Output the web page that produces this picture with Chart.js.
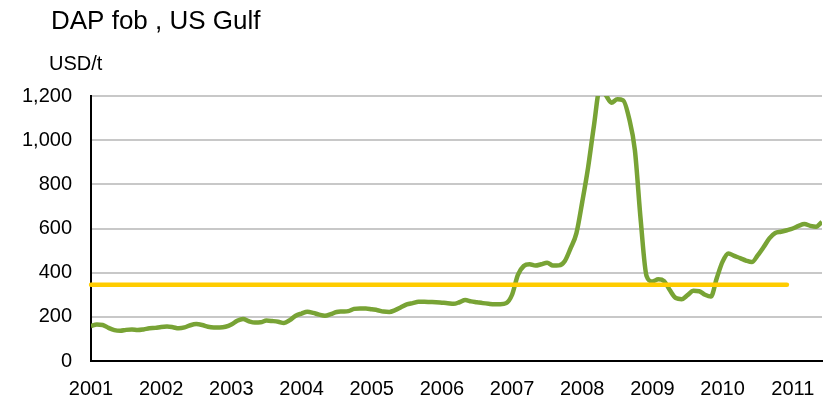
<!DOCTYPE html>
<html>
<head>
<meta charset="utf-8">
<title>DAP fob, US Gulf</title>
<script src="https://cdn.jsdelivr.net/npm/chart.js@4"></script>
<style>
    html, body { margin: 0; padding: 0; background: #ffffff; }
    #wrap { position: relative; width: 831px; height: 398px; }
</style>
</head>
<body>
<div id="wrap"><canvas id="dap-chart" width="831" height="398"></canvas></div>
<script>
// ===== DAP fob, US Gulf - monthly price =====

const years = ['2001', '2002', '2003', '2004', '2005', '2006', '2007', '2008', '2009', '2010', '2011'];
const monthsShown = 126; // Jan 2001 .. Jun 2011

// USD/t, one value per month
const price2001 = [158, 165, 163, 150, 140, 137, 141, 143, 140, 143, 148, 150];
const price2002 = [154, 156, 153, 148, 152, 162, 167, 163, 155, 152, 152, 155];
const price2003 = [165, 182, 190, 180, 174, 175, 183, 181, 178, 172, 185, 205];
const price2004 = [215, 223, 218, 210, 205, 212, 222, 224, 226, 236, 238, 238];
const price2005 = [234, 230, 224, 222, 230, 243, 256, 262, 268, 268, 267, 266];
const price2006 = [264, 262, 259, 266, 276, 270, 266, 262, 259, 257, 257, 262];
const price2007 = [300, 390, 430, 438, 432, 438, 445, 432, 433, 452, 510, 578];
const price2008 = [720, 876, 1065, 1230, 1205, 1170, 1185, 1180, 1100, 955, 637, 385];
const price2009 = [360, 370, 362, 320, 285, 280, 298, 318, 316, 300, 292, 375];
const price2010 = [450, 487, 476, 466, 455, 448, 478, 515, 555, 580, 585, 592];
const price2011 = [600, 612, 620, 612, 608, 630];

// long-run average level, Jan 2001 .. Dec 2010
const averageLevel = 345;
const averageFrom = '2001-01';
const averageTo = '2010-12';

const yTicks = [0, 200, 400, 600, 800, 1000, 1200];

const FONT = '"Liberation Sans", Arial, sans-serif';

function buildMonthLabels() {
    const labels = [];
    years.forEach(y => {
        for (let m = 1; m <= 12; m++) {
            labels.push(y + '-' + String(m).padStart(2, '0'));
        }
    });
    return labels.slice(0, monthsShown);
}

const monthLabels = buildMonthLabels();
const prices = [].concat(price2001, price2002, price2003, price2004, price2005,
    price2006, price2007, price2008, price2009, price2010, price2011);

// Title and unit label drawn above the plot
const headerPlugin = {
    id: 'header',
    afterDraw(chart) {
        const ctx = chart.ctx;
        ctx.save();
        ctx.fillStyle = '#000000';
        ctx.textBaseline = 'alphabetic';
        ctx.textAlign = 'left';
        ctx.font = '26px ' + FONT;
        ctx.fillText('DAP fob , US Gulf', 51, 29);
        ctx.font = '20px ' + FONT;
        ctx.fillText('USD/t', 49, 70);
        ctx.restore();
    }
};

function initPriceChart() {
    const ctx = document.getElementById('dap-chart').getContext('2d');

    new Chart(ctx, {
        type: 'line',
        data: {
            labels: monthLabels,
            datasets: [{
                label: 'DAP fob US Gulf',
                data: prices,
                borderColor: '#78a335',
                borderWidth: 4.5,
                pointRadius: 0,
                cubicInterpolationMode: 'monotone',
                fill: false,
                clip: 0,
                order: 1
            }, {
                label: 'Average',
                data: [{ x: averageFrom, y: averageLevel }, { x: averageTo, y: averageLevel }],
                borderColor: '#ffcc00',
                borderWidth: 4.5,
                borderCapStyle: 'round',
                pointRadius: 0,
                fill: false,
                order: 0
            }]
        },
        options: {
            responsive: false,
            animation: false,
            layout: {
                padding: { top: 96, right: 9, bottom: 0, left: 0 }
            },
            plugins: {
                legend: { display: false },
                tooltip: { enabled: false }
            },
            scales: {
                x: {
                    type: 'category',
                    offset: false,
                    grid: { display: false, drawTicks: false },
                    border: { display: true, color: '#000000', width: 2 },
                    ticks: {
                        autoSkip: false,
                        maxRotation: 0,
                        padding: 16,
                        color: '#000000',
                        font: { family: FONT, size: 20 },
                        callback: function (value, index) {
                            const lab = monthLabels[index];
                            return lab.endsWith('-01') ? lab.slice(0, 4) : '';
                        }
                    },
                    afterFit: function (scale) {
                        scale.height = 37;
                        // the last month has no label, so no side padding is needed
                        scale.paddingLeft = 0;
                        scale.paddingRight = 0;
                    }
                },
                y: {
                    min: 0,
                    max: 1200,
                    afterBuildTicks: function (scale) {
                        scale.ticks = yTicks.map(v => ({ value: v }));
                    },
                    grid: { color: '#c8c8c8', lineWidth: 2, drawTicks: false },
                    border: { display: true, color: '#000000', width: 2 },
                    ticks: {
                        padding: 19,
                        color: '#000000',
                        font: { family: FONT, size: 20 },
                        callback: v => v.toLocaleString('en-US')
                    },
                    afterFit: function (scale) { scale.width = 91; }
                }
            }
        },
        plugins: [headerPlugin]
    });
}

initPriceChart();
</script>
</body>
</html>
